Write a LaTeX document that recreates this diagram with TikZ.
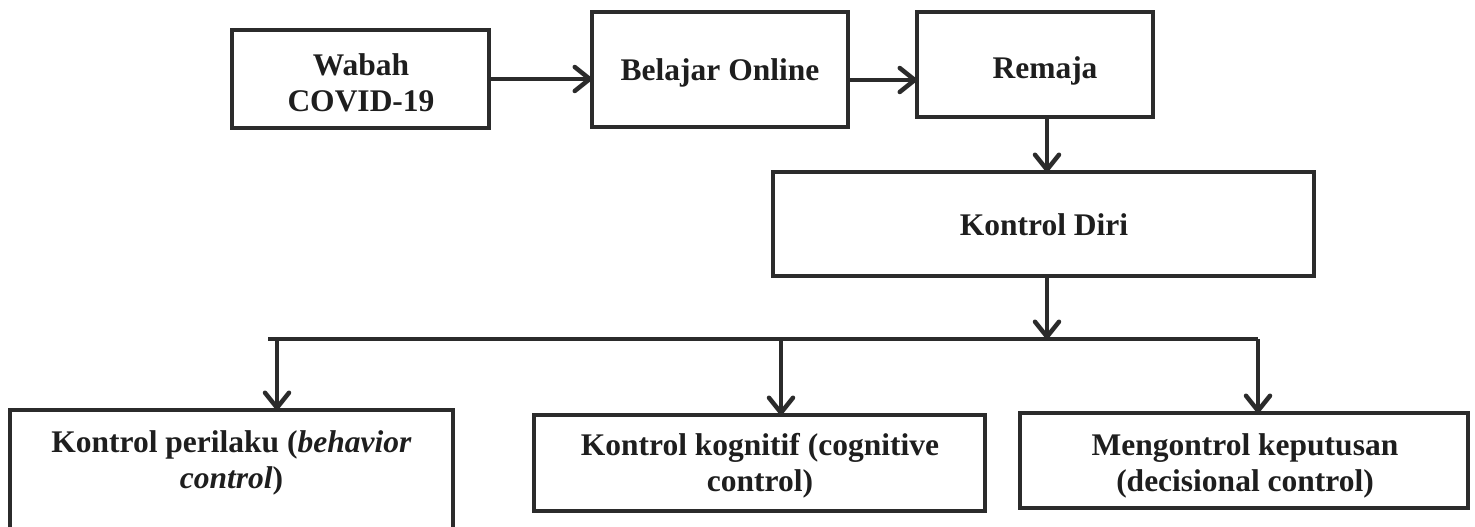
\documentclass[tikz,border=0pt]{standalone}
\usepackage{fontspec}
\setmainfont{Liberation Serif}
\usetikzlibrary{arrows.meta}
\definecolor{ink}{HTML}{2B2B2B}
\definecolor{txt}{HTML}{1E1E1E}
\begin{document}
\begin{tikzpicture}[x=1pt,y=-1pt,
  box/.style={draw=ink, line width=4.5pt, rectangle, inner sep=0pt, outer sep=0pt},
  lbl/.style={text=txt, font=\fontsize{31.5}{36}\selectfont\bfseries, align=center, inner sep=0pt},
  conn/.style={draw=ink, line width=4.5pt, line join=round},
  arr/.style={conn, -{Straight Barb[length=15pt,width=24pt,line width=4.5pt,line cap=round,line join=round]}}]
\useasboundingbox (0,0) rectangle (1475,527);
% boxes
\node[box, minimum width=257pt, minimum height=98pt] (wabah) at (360.5,79) {};
\node[box, minimum width=256pt, minimum height=115pt] (belajar) at (720,69.5) {};
\node[box, minimum width=236pt, minimum height=105pt] (remaja) at (1035,64.5) {};
\node[box, minimum width=541pt, minimum height=104pt] (diri) at (1043.5,224) {};
\node[box, minimum width=443pt, minimum height=140pt] (k1) at (231.5,480) {};
\node[box, minimum width=451pt, minimum height=96pt] (k2) at (759.5,463) {};
\node[box, minimum width=448pt, minimum height=95pt] (k3) at (1244,460.5) {};
% texts
\node[lbl] (wabahT) at (361,83) {Wabah\\COVID-19};
\node[lbl, anchor=base] (belajarT) at (720,81) {Belajar Online};
\node[lbl, anchor=base] (remajaT) at (1045,78) {Remaja};
\node[lbl, anchor=base] (diriT) at (1044,235) {Kontrol Diri};
\node[lbl] (k1T) at (231.5,463.4) {Kontrol perilaku (\textit{behavior}\\\textit{control})};
\node[lbl] (k2T) at (760,465.9) {Kontrol kognitif (cognitive\\control)};
\node[lbl] (k3T) at (1245,465.7) {Mengontrol keputusan\\(decisional control)};
% connectors
\coordinate (barL) at (268,339);
\coordinate (barR) at (1258,339);
\coordinate (b1) at (277,339);
\coordinate (b2) at (781,339);
\coordinate (bj) at (1047,339);
\draw[arr] (wabah.east) -- (wabah.east -| belajar.west);
\draw[arr] ([yshift=-10.5pt]belajar.east) -- ([yshift=-10.5pt]belajar.east -| remaja.west);
\draw[arr] ([xshift=12pt]remaja.south) -- ([xshift=12pt]remaja.south |- diri.north);
\draw[arr] (bj |- diri.south) -- (bj);
\draw[conn] (barL) -- (barR);
\draw[arr] (barL -| barR) -- (barR |- k3.north);
\draw[arr] (b1) -- (b1 |- k1.north);
\draw[arr] (b2) -- (b2 |- k2.north);
\end{tikzpicture}
\end{document}
